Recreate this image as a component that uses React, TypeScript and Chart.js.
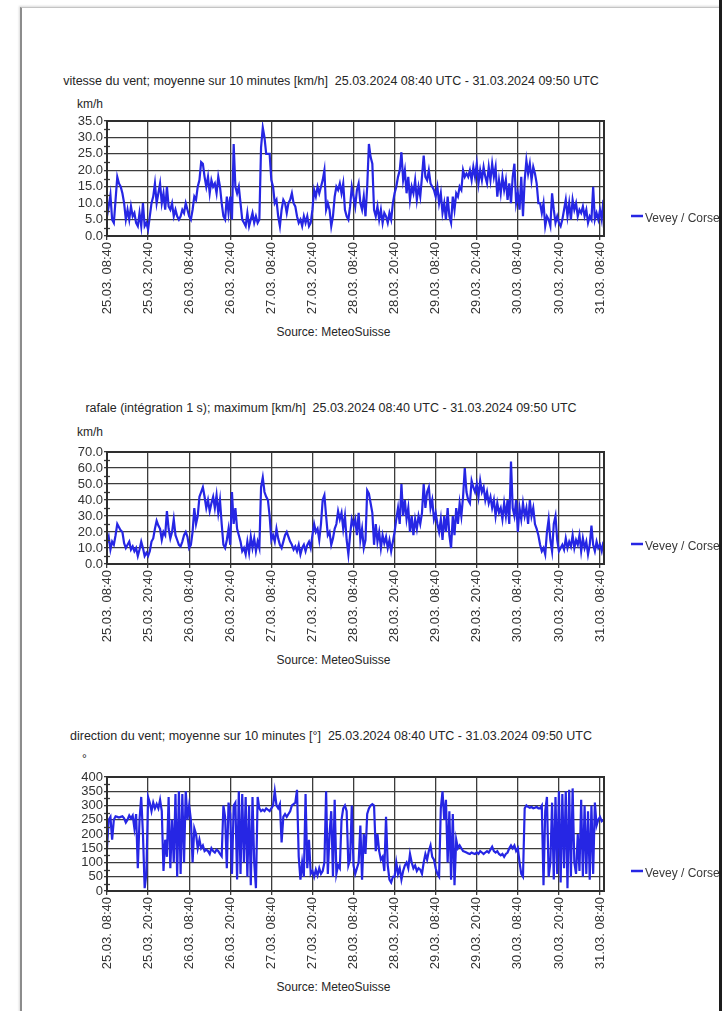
import React, { useEffect, useRef } from "react";
import { Chart, registerables } from "chart.js";

Chart.register(...registerables);

// ---- data -------------------------------------------------------------
const STATION = "Vevey / Corseaux";
const PERIOD = "25.03.2024 08:40 UTC - 31.03.2024 09:50 UTC";
const SOURCE = "Source: MeteoSuisse";

// hours since 25.03.2024 08:40 UTC
const STEP_HOURS = 0.5;
const END_HOURS = 145 + 10 / 60;
const TICK_HOURS = [0, 12, 24, 36, 48, 60, 72, 84, 96, 108, 120, 132, 144];
const TICK_LABELS = [
  "25.03. 08:40", "25.03. 20:40", "26.03. 08:40", "26.03. 20:40",
  "27.03. 08:40", "27.03. 20:40", "28.03. 08:40", "28.03. 20:40",
  "29.03. 08:40", "29.03. 20:40", "30.03. 08:40", "30.03. 20:40",
  "31.03. 08:40",
];

// wind speed, 10 min mean [km/h], every 30 min
const SPEED = [
  6, 9, 12.5, 5, 4, 11, 18, 16, 15, 13, 10, 5, 8, 5, 9, 6, 7, 4, 3, 7, 3, 10, 3, 4,
  2, 6, 10, 12, 16, 10, 13, 16, 10, 13, 8, 15, 9, 8, 10, 6, 8, 6, 5, 6, 8, 7, 10, 8,
  6, 5, 8, 12, 11, 15, 17, 22.5, 22, 18, 15, 18, 13, 17, 15, 16, 13, 18, 15, 10, 6, 5, 12, 7,
  12, 5, 28, 15, 13, 15, 10, 5, 4, 3, 7, 3, 5, 7, 4, 6, 4, 5, 27, 33, 30, 25, 25, 25,
  17, 15, 10, 11, 6, 3, 8, 11, 10, 7, 10, 11, 13, 10, 9, 6, 4, 5, 3, 6, 4, 6, 3, 4,
  8, 14, 12, 15, 13, 15, 17, 20, 8, 10, 8, 3, 6, 12, 15, 14, 16, 13, 16, 8, 6, 5, 9, 15,
  12, 9, 14, 16, 10, 8, 12, 6, 15, 28, 24, 22, 8, 6, 9, 5, 8, 4, 7, 6, 4, 7, 5, 10,
  13, 15, 18, 20, 25.5, 17, 20, 13, 18, 11, 15, 13, 17, 11, 15, 12, 18, 24.5, 18, 17, 20, 16, 15, 14,
  12, 15, 10, 13, 7, 10, 5, 12, 6, 4, 12, 8, 13, 12, 15, 14, 20, 18, 19, 18, 20, 17, 21, 18,
  22, 16, 20, 17, 21, 18, 16, 21, 17, 22, 18, 21, 12, 17, 13, 18, 14, 17, 11, 16, 10, 18, 22, 10,
  13, 8, 18, 6, 17, 23, 19, 22, 17, 21, 19, 16, 10, 10, 7, 10, 3, 6, 5, 3, 13, 8, 4, 6,
  4, 3, 5, 8, 11, 6, 10, 5, 11, 8, 10, 6, 8, 7, 9, 6, 8, 4, 6, 5, 15, 5, 7, 5,
  8, 5, 11,
];

// gust, 1 s integration, maximum [km/h], every 30 min
const GUST = [
  13, 17, 9, 14, 12, 18, 25, 23, 21, 20, 13, 10, 12, 14, 9, 11, 8, 10, 5, 9, 14, 10, 5, 7,
  5, 8, 14, 16, 22, 27, 24, 22, 15, 20, 18, 33, 22, 16, 20, 28, 18, 15, 12, 11, 14, 18, 20, 17,
  10, 12, 20, 35, 25, 30, 42, 45, 48, 42, 35, 40, 33, 38, 42, 35, 43, 32, 40, 25, 12, 10, 15, 22,
  12, 45, 25, 35, 22, 18, 14, 8, 10, 6, 14, 7, 17, 10, 16, 8, 14, 10, 48, 54, 45, 42, 40, 30,
  15, 18, 14, 22, 16, 12, 10, 14, 18, 20, 17, 14, 12, 9, 11, 8, 12, 6, 10, 12, 8, 12, 14, 10,
  18, 25, 20, 22, 15, 25, 40, 43, 30, 18, 20, 12, 16, 22, 25, 33, 28, 32, 22, 30, 15, 6, 18, 28,
  24, 28, 18, 32, 15, 22, 10, 15, 46, 44, 38, 32, 12, 25, 14, 20, 10, 18, 13, 17, 10, 15, 8, 14,
  20, 28, 35, 25, 50, 30, 40, 28, 35, 20, 30, 18, 28, 22, 30, 25, 32, 50, 35, 45, 48, 35, 40, 28,
  32, 25, 20, 28, 15, 30, 20, 35, 18, 10, 30, 18, 35, 25, 38, 30, 42, 60, 45, 40, 38, 52, 48, 45,
  50, 42, 52, 45, 48, 40, 45, 38, 42, 35, 40, 30, 38, 32, 35, 28, 38, 30, 40, 25, 64, 35, 30, 40,
  20, 35, 28, 38, 30, 35, 25, 40, 30, 35, 25, 22, 18, 12, 8, 10, 6, 20, 28, 15, 8, 25, 30, 15,
  8, 10, 12, 9, 16, 10, 14, 11, 18, 10, 15, 12, 18, 8, 16, 10, 14, 6, 12, 24, 12, 8, 14, 10,
  12, 8, 14,
];

// wind direction, 10 min mean [deg], every 30 min
const DIRECTION = [
  150, 250, 260, 180, 250, 262, 260, 258, 260, 262, 255, 240, 250, 265, 255, 265, 220, 270, 80, 250, 330, 200, 10, 60,
  330, 310, 280, 310, 290, 305, 290, 320, 280, 70, 180, 120, 330, 80, 250, 100, 340, 50, 350, 60, 340, 100, 350, 250,
  300, 250, 100, 220, 200, 150, 180, 150, 160, 140, 145, 140, 130, 150, 140, 135, 145, 140, 130, 122, 300, 260, 80, 310,
  270, 60, 300, 310, 40, 350, 60, 340, 100, 330, 50, 300, 20, 330, 100, 10, 330, 290, 280, 285, 280, 290, 285, 280,
  290, 300, 350, 300, 290, 305, 170, 260, 270, 260, 270, 280, 300, 305, 310, 355, 120, 40, 100, 50, 340, 80, 180, 60,
  70, 50, 75, 55, 80, 60, 70, 100, 350, 60, 200, 280, 50, 320, 60, 90, 80, 250, 290, 300, 280, 90, 110, 300,
  90, 60, 80, 100, 230, 40, 200, 130, 270, 290, 300, 305, 300, 140, 200, 140, 110, 120, 70, 260, 90, 40, 30, 50,
  50, 100, 60, 80, 40, 70, 90, 100, 80, 130, 100, 80, 90, 70, 80, 75, 60, 100, 130, 110, 140, 160, 120, 110,
  80, 60, 50, 290, 350, 250, 320, 100, 280, 40, 270, 20, 180, 150, 160, 150, 140, 138, 135, 132, 130, 135, 132, 130,
  135, 130, 140, 135, 130, 135, 140, 135, 145, 155, 140, 135, 140, 130, 125, 130, 120, 130, 135, 150, 160, 150, 160, 140,
  150, 100, 60, 50, 290, 300, 295, 292, 295, 290, 292, 295, 290, 290, 300, 20, 280, 330, 50, 100, 310, 40, 330, 60,
  350, 30, 340, 80, 350, 10, 355, 50, 360, 100, 60, 200, 70, 320, 50, 300, 60, 280, 40, 300, 60, 310, 230, 250,
  260, 245, 250,
];

// ---- styling ----------------------------------------------------------
const FONT = '"Liberation Sans", Arial, Helvetica, sans-serif';
const LINE_COLOR = "#2626e4";
const GRID_COLOR = "#3c3c3c";
const TEXT_COLOR = "#333333";
const CANVAS_W = 719;
const PLOT_LEFT = 107;
const PLOT_RIGHT = 604;
const PAD_TOP = 21;
const X_AXIS_H = 80;

const framePlugin = {
  id: "meteoFrame",
  afterDraw(chart: any, _args: any, opts: any) {
    const { ctx, chartArea: a, scales } = chart;
    ctx.save();
    // minor tick marks on the value axis
    ctx.strokeStyle = GRID_COLOR;
    ctx.lineWidth = 1.3;
    const y = scales.y;
    for (let v = opts.minor; v < opts.max; v += opts.major) {
      const py = Math.round(y.getPixelForValue(v)) + 0.5;
      ctx.beginPath();
      ctx.moveTo(a.left - 3, py);
      ctx.lineTo(a.left + 3, py);
      ctx.stroke();
    }
    // plot frame
    ctx.strokeStyle = "#2e2e2e";
    ctx.lineWidth = 2;
    ctx.strokeRect(a.left, a.top, a.right - a.left, a.bottom - a.top);
    // legend
    const ds = chart.data.datasets[0];
    const ly = a.bottom - 20;
    ctx.strokeStyle = ds.borderColor;
    ctx.lineWidth = 2.5;
    ctx.beginPath();
    ctx.moveTo(a.right + 27, ly);
    ctx.lineTo(a.right + 39, ly);
    ctx.stroke();
    ctx.fillStyle = "#3a3a3a";
    ctx.font = `12px ${FONT}`;
    ctx.textBaseline = "middle";
    ctx.textAlign = "left";
    ctx.fillText(ds.label, a.right + 41, ly + 3);
    ctx.restore();
  },
};

type ChartProps = {
  values: number[];
  top: number;
  plotHeight: number;
  yMax: number;
  major: number;
  decimals: number;
};

function MeteoChart({ values, top, plotHeight, yMax, major, decimals }: ChartProps) {
  const ref = useRef<HTMLCanvasElement>(null);
  const height = PAD_TOP + plotHeight + X_AXIS_H;

  useEffect(() => {
    if (!ref.current) return;
    const majors: number[] = [];
    for (let v = 0; v <= yMax + 1e-9; v += major) majors.push(v);
    const chart = new Chart(ref.current, {
      type: "line",
      data: {
        datasets: [
          {
            label: STATION,
            data: values.map((v, i) => ({ x: i * STEP_HOURS, y: v })),
            borderColor: LINE_COLOR,
            backgroundColor: LINE_COLOR,
            borderWidth: 2.2,
            pointRadius: 0,
            tension: 0,
            fill: false,
          },
        ],
      },
      options: {
        responsive: false,
        maintainAspectRatio: false,
        animation: false,
        layout: { padding: { top: PAD_TOP, right: CANVAS_W - PLOT_RIGHT, left: 0, bottom: 0 } },
        plugins: {
          legend: { display: false },
          title: { display: false },
          tooltip: { enabled: false },
          meteoFrame: { minor: major / 2, major, max: yMax },
        } as any,
        scales: {
          x: {
            type: "linear",
            min: 0,
            max: END_HOURS,
            afterBuildTicks: (s: any) => {
              s.ticks = TICK_HOURS.map((v) => ({ value: v }));
            },
            afterFit: (s: any) => {
              s.height = X_AXIS_H;
            },
            grid: { color: GRID_COLOR, lineWidth: 1.3, tickLength: 4, tickColor: GRID_COLOR },
            border: { display: false },
            ticks: {
              autoSkip: false,
              minRotation: 90,
              maxRotation: 90,
              padding: 2,
              color: TEXT_COLOR,
              font: { family: FONT, size: 13 },
              callback: (value: any) => TICK_LABELS[TICK_HOURS.indexOf(Number(value))] ?? "",
            },
          },
          y: {
            type: "linear",
            min: 0,
            max: yMax,
            afterBuildTicks: (s: any) => {
              s.ticks = majors.map((v) => ({ value: v }));
            },
            afterFit: (s: any) => {
              s.width = PLOT_LEFT;
            },
            grid: { color: GRID_COLOR, lineWidth: 1.3, tickLength: 3, tickColor: GRID_COLOR },
            border: { display: false },
            ticks: {
              autoSkip: false,
              padding: 1,
              color: TEXT_COLOR,
              font: { family: FONT, size: 13 },
              callback: (value: any) => Number(value).toFixed(decimals),
            },
          },
        },
      },
      plugins: [framePlugin],
    } as any);
    return () => chart.destroy();
  }, [values, yMax, major, decimals]);

  return (
    <canvas
      ref={ref}
      width={CANVAS_W}
      height={height}
      style={{ position: "absolute", left: 0, top, width: CANVAS_W, height }}
    />
  );
}

const textStyle: React.CSSProperties = {
  position: "absolute",
  fontFamily: FONT,
  fontSize: 12,
  lineHeight: "14px",
  color: "#262626",
  whiteSpace: "pre",
};

function Centered({ text, top, center, size = 12 }: { text: string; top: number; center: number; size?: number }) {
  return (
    <div style={{ ...textStyle, fontSize: size, left: 0, width: center * 2, top, textAlign: "center" }}>{text}</div>
  );
}

export default function App() {
  return (
    <div
      style={{
        position: "absolute",
        left: 0,
        top: 0,
        width: 724,
        height: 1011,
        overflow: "hidden",
        background: "#ffffff",
      }}
    >
      {/* page sheet */}
      <div
        style={{
          position: "absolute",
          left: 20,
          top: 7,
          width: 700,
          height: 1010,
          borderLeft: "2px solid #8c8c8c",
          borderTop: "1px solid #c4c4c4",
          boxShadow: "-1px -1px 2px rgba(0,0,0,0.15)",
        }}
      />

      <Centered text={`vitesse du vent; moyenne sur 10 minutes [km/h]  ${PERIOD}`} top={74} center={331} size={12.5} />
      <div style={{ ...textStyle, left: 77, top: 97 }}>km/h</div>
      <MeteoChart values={SPEED} top={100} plotHeight={115} yMax={35} major={5} decimals={1} />
      <Centered text={SOURCE} top={325} center={333.5} />

      <Centered text={`rafale (intégration 1 s); maximum [km/h]  ${PERIOD}`} top={401} center={331} size={12.5} />
      <div style={{ ...textStyle, left: 77, top: 425 }}>km/h</div>
      <MeteoChart values={GUST} top={431} plotHeight={112} yMax={70} major={10} decimals={1} />
      <Centered text={SOURCE} top={653} center={333.5} />

      <Centered text={`direction du vent; moyenne sur 10 minutes [°]  ${PERIOD}`} top={729} center={331} size={12.5} />
      <div style={{ ...textStyle, left: 82, top: 752 }}>°</div>
      <MeteoChart values={DIRECTION} top={756} plotHeight={114} yMax={400} major={50} decimals={0} />
      <Centered text={SOURCE} top={980} center={333.5} />

      {/* right edge of the sheet */}
      <div style={{ position: "absolute", left: 719, top: 0, width: 3, height: 1011, background: "#1c1c1c" }} />
    </div>
  );
}
